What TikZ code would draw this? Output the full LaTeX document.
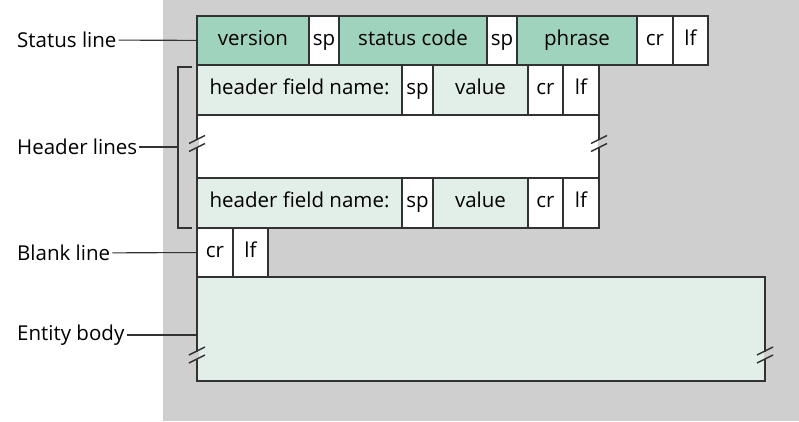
\documentclass[tikz,border=0pt]{standalone}
\usepackage{fontspec}
\setmainfont{Open Sans}
\usetikzlibrary{positioning}
\definecolor{bggray}{RGB}{207,207,207}
\definecolor{statgreen}{RGB}{160,211,189}
\definecolor{headgreen}{RGB}{225,239,232}
\definecolor{edgegray}{RGB}{50,50,50}

\begin{document}
\begin{tikzpicture}[
      x=1pt, y=-1pt,
      node distance=0pt,
      cell/.style={rectangle, draw=edgegray, line width=1.6pt, inner sep=0pt, outer sep=0pt, minimum height=49pt, text height=14pt, text depth=5pt, font=\fontsize{20.5}{24}\selectfont},
      stat/.style={cell, fill=statgreen},
      head/.style={cell, fill=headgreen},
      blank/.style={cell, fill=white},
      lbl/.style={anchor=west, inner sep=2pt, font=\fontsize{20.5}{24}\selectfont},
      line/.style={draw=edgegray, line width=1.1pt},
      breakmark/.pic={
        \draw[bggray, line width=3pt] (0,-3.5) -- (0,3.5);
        \draw[edgegray, line width=1.4pt] (-8,0) -- (8,-8);
        \draw[edgegray, line width=1.4pt] (-8,8) -- (8,0);
      }
  ]
      % Background
      \useasboundingbox (0,0) rectangle (799,421);
      \fill[bggray] (163,0) rectangle (799,421);

      % Status line
      \node (version) [stat, minimum width=112pt, anchor=north west] at (197,16) {version};
      \node (sp1) [blank, minimum width=30pt, right=of version] {sp};
      \node (code) [stat, minimum width=148pt, right=of sp1] {status code};
      \node (sp2) [blank, minimum width=30pt, right=of code] {sp};
      \node (phrase) [stat, minimum width=120pt, right=of sp2] {phrase};
      \node (cr1) [blank, minimum width=36pt, right=of phrase] {cr};
      \node (lf1) [blank, minimum width=35pt, right=of cr1] {lf};

      % Header lines
      \node (hname1) [head, minimum width=205pt, minimum height=50pt, anchor=north west] at (version.south west) {header field name:};
      \node (hsp1) [blank, minimum width=31pt, minimum height=50pt, right=of hname1] {sp};
      \node (hval1) [head, minimum width=95pt, minimum height=50pt, right=of hsp1] {value};
      \node (hcr1) [blank, minimum width=35pt, minimum height=50pt, right=of hval1] {cr};
      \node (hlf1) [blank, minimum width=36pt, minimum height=50pt, right=of hcr1] {lf};

      \node (gapbox) [blank, minimum width=402pt, minimum height=63pt, anchor=north west] at (hname1.south west) {};

      \node (hname2) [head, minimum width=205pt, minimum height=50pt, anchor=north west] at (gapbox.south west) {header field name:};
      \node (hsp2) [blank, minimum width=31pt, minimum height=50pt, right=of hname2] {sp};
      \node (hval2) [head, minimum width=95pt, minimum height=50pt, right=of hsp2] {value};
      \node (hcr2) [blank, minimum width=35pt, minimum height=50pt, right=of hval2] {cr};
      \node (hlf2) [blank, minimum width=36pt, minimum height=50pt, right=of hcr2] {lf};

      % Blank line
      \node (cr3) [blank, minimum width=36pt, anchor=north west] at (hname2.south west) {cr};
      \node (lf3) [blank, minimum width=35pt, right=of cr3] {lf};

      % Entity body
      \node (ebody) [head, minimum width=568pt, minimum height=104pt, anchor=north west] at (cr3.south west) {};

      % Break marks
      \pic at ([yshift=3pt]gapbox.west) {breakmark};
      \pic at ([yshift=3pt]gapbox.east) {breakmark};
      \pic at ([yshift=-26pt]ebody.west) {breakmark};
      \pic at ([yshift=-26pt]ebody.east) {breakmark};

      % Labels on the left
      \node (statuslbl) [lbl] at (15,40) {Status line};
      \node (headlbl) [lbl] at (15,147) {Header lines};
      \node (blanklbl) [lbl] at (15,253) {Blank line};
      \node (entitylbl) [lbl] at (15,335) {Entity body};

      \coordinate (brmid) at (178,147);
      \path [line] ([xshift=-5pt,yshift=-2pt]hname1.north west) -| (brmid) |- ([xshift=-5pt]hname2.south west);

      \path [line] (statuslbl) -- (version);
      \path [line] (headlbl) -- (brmid);
      \path [line] (blanklbl) -- (cr3);
      \path [line] (entitylbl.east) -- (entitylbl.east -| ebody.west);
  \end{tikzpicture}
\end{document}
